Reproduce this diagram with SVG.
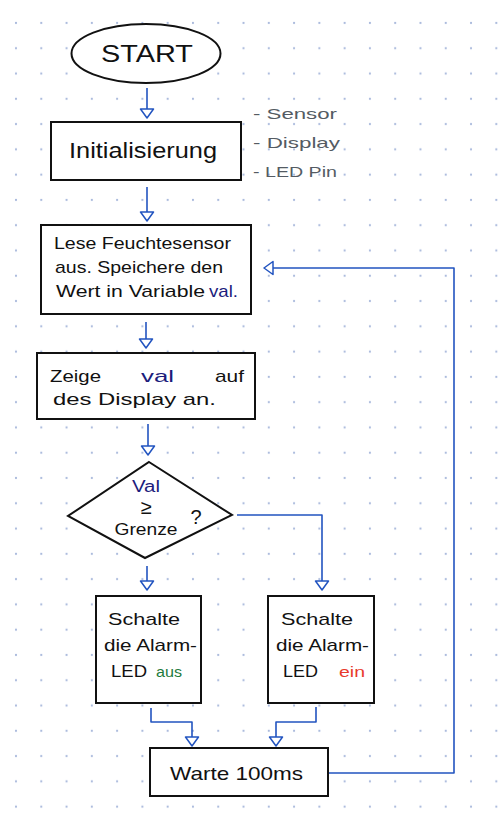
<svg xmlns="http://www.w3.org/2000/svg" width="498" height="824" viewBox="0 0 498 824">
<style>
.shape{fill:#ffffff;stroke:#111111;stroke-width:2}
.conn{fill:none;stroke:#2254c0;stroke-width:1.6;stroke-linejoin:round}
.t{font-family:"Liberation Sans",Arial,sans-serif;fill:#111111}
.note{font-family:"Liberation Sans",Arial,sans-serif;fill:#545b63;font-size:15px}
.val{fill:#1c1c7c}
.green{fill:#1e7a3c}
.red{fill:#e8392b}
</style>
<defs>
<pattern id="dots" patternUnits="userSpaceOnUse" x="3.36" y="10.36" width="25.28" height="25.28">
<circle cx="12.64" cy="12.64" r="1.1" fill="#a9b9dc"/>
</pattern>
<marker id="arrow" markerUnits="userSpaceOnUse" viewBox="0 0 11 16" refX="10" refY="8" markerWidth="11" markerHeight="16" orient="auto">
<path d="M1,1.5 L10,8 L1,14.5 Z" fill="#ffffff" stroke="#2254c0" stroke-width="1.5" stroke-linejoin="round"/>
</marker>
</defs>
<rect x="0" y="0" width="498" height="824" fill="#ffffff"/>
<rect x="0" y="0" width="498" height="824" fill="url(#dots)"/>

<g id="connectors">
<path class="conn" d="M147,88 L147,118" marker-end="url(#arrow)"/>
<path class="conn" d="M147,187 L147,221" marker-end="url(#arrow)"/>
<path class="conn" d="M146,322 L146,348" marker-end="url(#arrow)"/>
<path class="conn" d="M148,424 L148,455" marker-end="url(#arrow)"/>
<path class="conn" d="M147,566 L147,590" marker-end="url(#arrow)"/>
<path class="conn" d="M237,515 L322,515 L322,590" marker-end="url(#arrow)"/>
<path class="conn" d="M151,708 L151,722 L192,722 L192,746" marker-end="url(#arrow)"/>
<path class="conn" d="M316,707 L316,722 L276,722 L276,746" marker-end="url(#arrow)"/>
<path class="conn" d="M328,773 L454,773 L454,268 L264,268" marker-end="url(#arrow)"/>
</g>

<g id="start">
<ellipse class="shape" cx="146" cy="53.5" rx="74.5" ry="29.5"/>
<text class="t" x="147" y="62" font-size="23" text-anchor="middle" textLength="92" lengthAdjust="spacingAndGlyphs">START</text>
</g>

<g id="init">
<rect class="shape" x="51" y="122" width="190" height="58"/>
<text class="t" x="69" y="158" font-size="22" textLength="148" lengthAdjust="spacingAndGlyphs">Initialisierung</text>
</g>

<g id="notes">
<text class="note" x="253" y="119" textLength="84" lengthAdjust="spacingAndGlyphs">- Sensor</text>
<text class="note" x="253" y="148" textLength="87" lengthAdjust="spacingAndGlyphs">- Display</text>
<text class="note" x="253" y="177" textLength="84" lengthAdjust="spacingAndGlyphs">- LED Pin</text>
</g>

<g id="read">
<rect class="shape" x="41" y="225" width="210" height="89"/>
<text class="t" x="54" y="249" font-size="17" textLength="177" lengthAdjust="spacingAndGlyphs">Lese Feuchtesensor</text>
<text class="t" x="55" y="273" font-size="17" textLength="168" lengthAdjust="spacingAndGlyphs">aus. Speichere den</text>
<text class="t" x="56" y="297" font-size="17" textLength="149" lengthAdjust="spacingAndGlyphs">Wert in Variable</text>
<text class="t val" x="209" y="297" font-size="17" textLength="29" lengthAdjust="spacingAndGlyphs">val.</text>
</g>

<g id="show">
<rect class="shape" x="37" y="353" width="218" height="66"/>
<text class="t" x="50" y="382" font-size="17" textLength="51" lengthAdjust="spacingAndGlyphs">Zeige</text>
<text class="t val" x="141" y="382" font-size="17" textLength="33" lengthAdjust="spacingAndGlyphs">val</text>
<text class="t" x="215" y="382" font-size="17" textLength="29" lengthAdjust="spacingAndGlyphs">auf</text>
<text class="t" x="53" y="405" font-size="17" textLength="163" lengthAdjust="spacingAndGlyphs">des Display an.</text>
</g>

<g id="decision">
<polygon class="shape" points="149,462 232,515 145,558 68,516"/>
<text class="t val" x="146" y="492" font-size="16" text-anchor="middle" textLength="28" lengthAdjust="spacingAndGlyphs">Val</text>
<text class="t" x="146" y="514" font-size="20" text-anchor="middle">≥</text>
<text class="t" x="146" y="535" font-size="17" text-anchor="middle" textLength="63" lengthAdjust="spacingAndGlyphs">Grenze</text>
<text class="t" x="196" y="524" font-size="20" text-anchor="middle">?</text>
</g>

<g id="led-off">
<rect class="shape" x="96" y="596" width="105" height="107"/>
<text class="t" x="108" y="625" font-size="17" textLength="72" lengthAdjust="spacingAndGlyphs">Schalte</text>
<text class="t" x="104" y="651" font-size="17" textLength="93" lengthAdjust="spacingAndGlyphs">die Alarm-</text>
<text class="t" x="111" y="677" font-size="17" textLength="36" lengthAdjust="spacingAndGlyphs">LED</text>
<text class="t green" x="156" y="677" font-size="15" textLength="26" lengthAdjust="spacingAndGlyphs">aus</text>
</g>

<g id="led-on">
<rect class="shape" x="268" y="596" width="106" height="107"/>
<text class="t" x="281" y="625" font-size="17" textLength="72" lengthAdjust="spacingAndGlyphs">Schalte</text>
<text class="t" x="276" y="651" font-size="17" textLength="93" lengthAdjust="spacingAndGlyphs">die Alarm-</text>
<text class="t" x="283" y="677" font-size="17" textLength="35" lengthAdjust="spacingAndGlyphs">LED</text>
<text class="t red" x="339" y="677" font-size="15" textLength="26" lengthAdjust="spacingAndGlyphs">ein</text>
</g>

<g id="wait">
<rect class="shape" x="150" y="748" width="178" height="48"/>
<text class="t" x="170" y="780" font-size="19" textLength="133" lengthAdjust="spacingAndGlyphs">Warte 100ms</text>
</g>
</svg>
